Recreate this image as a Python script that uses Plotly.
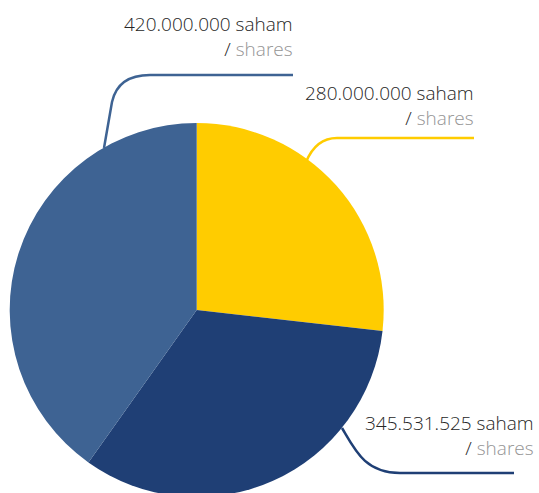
import plotly.graph_objects as go

# ---- data ----
categories = ["Saham A", "Saham B", "Saham C"]
shares = [280000000, 345531525, 420000000]
unit_id = "saham"
unit_en = "shares"

# ---- style ----
colors = ["#FFCC00", "#1F3F75", "#3E6393"]
W, H = 539, 500
cx, cy, r = 196.7, 310.0, 187.0   # pie centre / radius in px (from top-left)

def px(x, y):
    return x / W, 1 - y / H

def fmt(v):
    return f"{v:,}".replace(",", ".")

fig = go.Figure(go.Pie(
    labels=categories,
    values=shares,
    sort=False,
    direction="clockwise",
    rotation=0,
    textinfo="none",
    marker=dict(colors=colors, line=dict(width=0)),
    hovertemplate="%{label}: %{value:,}<extra></extra>",
    showlegend=False,
    domain=dict(x=[(cx - r) / W, (cx + r) / W],
                y=[(H - cy - r) / H, (H - cy + r) / H]),
))

# label anchors (right edge x, vertical middle y) and leader paths, px
label_pos = [(476, 105.5), (536, 435.5), (295, 36.5)]
leader_paths = [
    [("M", 306, 162), ("Q", 316, 138, 337, 138), ("L", 474, 138)],
    [("M", 342, 428), ("C", 355, 450, 365, 473, 400, 473), ("L", 514, 473)],
    [("M", 104, 148), ("L", 112, 102), ("Q", 118, 75, 150, 75), ("L", 293, 75)],
]

def build_path(cmds):
    out = []
    for c in cmds:
        op, nums = c[0], c[1:]
        pts = []
        for i in range(0, len(nums), 2):
            xp, yp = px(nums[i], nums[i + 1])
            pts.append(f"{xp:.5f},{yp:.5f}")
        out.append(op + " " + " ".join(pts))
    return " ".join(out)

shapes = []
annotations = []
for v, col, (lx, ly), path in zip(shares, colors, label_pos, leader_paths):
    shapes.append(dict(type="path", xref="paper", yref="paper",
                       path=build_path(path),
                       line=dict(color=col, width=2.5)))
    xp, yp = px(lx, ly)
    annotations.append(dict(
        x=xp, y=yp, xref="paper", yref="paper",
        xanchor="right", yanchor="middle", align="right",
        showarrow=False,
        text=f"{fmt(v)} {unit_id}<br>/ <span style='color:#959595'>{unit_en}</span>",
        font=dict(family="Open Sans", size=19, color="#262626", weight=300),
    ))

fig.update_layout(
    width=W, height=H,
    margin=dict(l=0, r=0, t=0, b=0),
    paper_bgcolor="white",
    plot_bgcolor="white",
    shapes=shapes,
    annotations=annotations,
)

fig.write_html(
    "out.html",
    config={"displayModeBar": False},
    post_script="document.body.style.overflow='hidden';document.documentElement.style.overflow='hidden';",
)
